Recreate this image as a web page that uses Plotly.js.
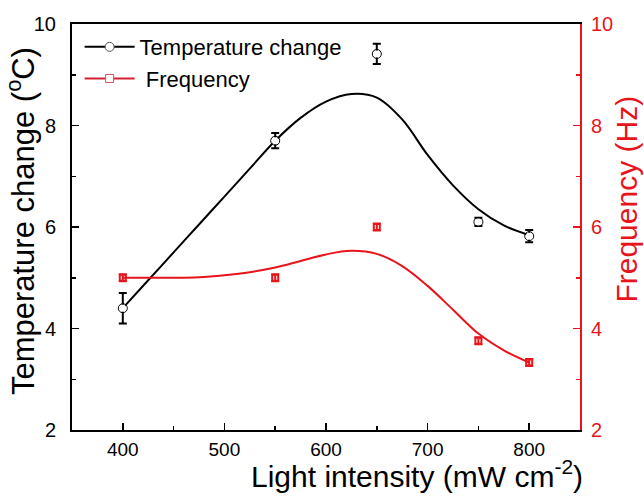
<!DOCTYPE html>
<html>
<head>
<meta charset="utf-8">
<script src="https://cdn.plot.ly/plotly-3.0.1.min.js"></script>
<style>html,body{margin:0;padding:0;background:#fff}#chart{width:644px;height:498px}</style>
</head>
<body>
<div id="chart"></div>
<script>
// Measured data
var intensity = [400, 550, 650, 750, 800];
var tempChange = [4.40, 7.70, 9.41, 6.10, 5.82];
var tempErr = [0.30, 0.15, 0.20, 0.08, 0.12];
var frequency = [5.00, 5.00, 6.00, 3.76, 3.33];
var freqErr = [0.07, 0.07, 0.07, 0.07, 0.07];

// Smoothed fit curves
var fitX = [400, 425, 450, 475, 500, 525, 550, 575, 600, 625, 650, 675, 700, 725, 750, 775, 800];
var tempFit = [4.40, 4.95, 5.50, 6.05, 6.60, 7.15, 7.70, 8.15, 8.47, 8.62, 8.55, 8.12, 7.42, 6.82, 6.35, 6.03, 5.84];
var freqFit = [5.00, 5.00, 5.00, 5.01, 5.05, 5.11, 5.20, 5.33, 5.46, 5.53, 5.47, 5.23, 4.84, 4.37, 3.90, 3.57, 3.33];

var xTicks = [400, 500, 600, 700, 800];
var yTicks = [2, 4, 6, 8, 10];

var RED = '#e8141c';
var FONT = 'Liberation Sans, Arial, sans-serif';

var traces = [
  {x: fitX, y: tempFit, mode: 'lines', line: {color: '#000', width: 2, shape: 'spline', smoothing: 1}, showlegend: false, hoverinfo: 'skip'},
  {x: fitX, y: freqFit, mode: 'lines', yaxis: 'y2', line: {color: RED, width: 2, shape: 'spline', smoothing: 1}, showlegend: false, hoverinfo: 'skip'},
  {x: intensity, y: tempChange, mode: 'markers', showlegend: false,
   marker: {symbol: 'circle-open', size: 9, color: '#000', line: {width: 1}},
   error_y: {type: 'data', array: tempErr, visible: true, color: '#000', thickness: 2, width: 4}},
  {x: intensity, y: tempChange, mode: 'markers', showlegend: false, hoverinfo: 'skip',
   marker: {symbol: 'circle', size: 7, color: '#fff'}},
  {x: intensity, y: frequency, mode: 'markers', yaxis: 'y2', showlegend: false,
   marker: {symbol: 'square-open', size: 6, color: RED, line: {width: 2}},
   error_y: {type: 'data', array: freqErr, visible: true, color: RED, thickness: 2, width: 4}},
  {x: [null], y: [null], mode: 'lines+markers', name: 'Temperature change',
   line: {color: '#000', width: 2}, marker: {symbol: 'circle', size: 9, color: '#fff', line: {color: '#555', width: 1}}},
  {x: [null], y: [null], mode: 'lines+markers', name: ' Frequency',
   line: {color: '#d42030', width: 2}, marker: {symbol: 'square', size: 8, color: '#fff', line: {color: '#d05060', width: 1}}}
];

var layout = {
  width: 644, height: 498,
  margin: {l: 72, r: 64, t: 24, b: 68},
  paper_bgcolor: '#fff', plot_bgcolor: '#fff',
  font: {family: FONT, size: 20, color: '#000'},
  showlegend: true,
  legend: {x: 0.015, y: 0.995, xanchor: 'left', yanchor: 'top', bgcolor: 'rgba(0,0,0,0)',
           font: {family: FONT, size: 22, color: '#000'}, tracegroupgap: 0, itemwidth: 50},
  xaxis: {
    range: [350, 850], tickvals: xTicks, ticks: 'inside', ticklen: 7, tickwidth: 1.5, tickcolor: '#000',
    showline: true, linecolor: '#000', linewidth: 2, mirror: true, showgrid: false, zeroline: false,
    minor: {dtick: 50, tick0: 350, ticks: 'inside', ticklen: 4, tickwidth: 1.5, tickcolor: '#000', showgrid: false},
    tickfont: {family: FONT, size: 19, color: '#000'}, ticklabelstandoff: 1
  },
  yaxis: {
    range: [2, 10], tickvals: yTicks, ticks: 'inside', ticklen: 7, tickwidth: 1.5, tickcolor: '#000',
    showline: true, linecolor: '#000', linewidth: 2, showgrid: false, zeroline: false,
    minor: {dtick: 1, ticks: 'inside', ticklen: 4, tickwidth: 1.5, tickcolor: '#000', showgrid: false},
    tickfont: {family: FONT, size: 20, color: '#000'}, ticklabelstandoff: 10
  },
  yaxis2: {
    overlaying: 'y', side: 'right', range: [2, 10], tickvals: yTicks, ticks: 'inside', ticklen: 7, tickwidth: 1.5, tickcolor: RED,
    showline: true, linecolor: RED, linewidth: 2, showgrid: false, zeroline: false,
    minor: {dtick: 1, ticks: 'inside', ticklen: 4, tickwidth: 1.5, tickcolor: RED, showgrid: false},
    tickfont: {family: FONT, size: 20, color: RED}, ticklabelstandoff: 5
  },
  annotations: [
    {text: 'Temperature change (<sup>o</sup>C)', xref: 'paper', yref: 'paper', x: -0.1, y: 0.515,
     xanchor: 'center', yanchor: 'middle', textangle: -90, showarrow: false, font: {family: FONT, size: 31, color: '#000'}},
    {text: 'Frequency (Hz)', xref: 'paper', yref: 'paper', x: 1.0925, y: 0.57,
     xanchor: 'center', yanchor: 'middle', textangle: -90, showarrow: false, font: {family: FONT, size: 30, color: RED}},
    {text: 'Light intensity (mW cm<sup>-2</sup>)', xref: 'paper', yref: 'paper', x: 0.679, y: -0.108,
     xanchor: 'center', yanchor: 'middle', showarrow: false, font: {family: FONT, size: 30, color: '#000'}}
  ]
};

Plotly.newPlot('chart', traces, layout, {displayModeBar: false, staticPlot: true});
</script>
</body>
</html>
